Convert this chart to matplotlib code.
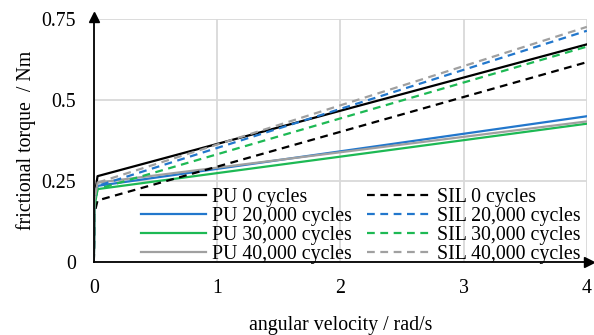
import matplotlib.pyplot as plt

plt.rcParams['font.family'] = ['Liberation Serif', 'DejaVu Serif']

# angular velocity / rad/s
x = [0, 0.005, 0.03, 4]

# frictional torque / Nm
pu_0 = [0, 0.2, 0.265, 0.672]
pu_20k = [0, 0.18, 0.235, 0.45]
pu_30k = [0, 0.17, 0.225, 0.427]
pu_40k = [0, 0.19, 0.245, 0.434]
sil_0 = [0, 0.15, 0.19, 0.617]
sil_20k = [0, 0.18, 0.235, 0.714]
sil_30k = [0, 0.17, 0.225, 0.665]
sil_40k = [0, 0.19, 0.245, 0.726]

labels_pu = ["PU 0 cycles", "PU 20,000 cycles", "PU 30,000 cycles", "PU 40,000 cycles"]
labels_sil = ["SIL 0 cycles", "SIL 20,000 cycles", "SIL 30,000 cycles", "SIL 40,000 cycles"]
colors = ["#000000", "#2277cc", "#1db954", "#a0a0a0"]

fig = plt.figure(figsize=(5.94, 3.35), dpi=100)
ax = fig.add_axes([0.158, 0.218, 0.83, 0.725])

for ys, lab, c in zip([pu_0, pu_20k, pu_30k, pu_40k], labels_pu, colors):
    ax.plot(x, ys, color=c, lw=1.6, label=lab)
for ys, lab, c in zip([sil_0, sil_20k, sil_30k, sil_40k], labels_sil, colors):
    ax.plot(x, ys, color=c, lw=1.6, ls=(0, (3.5, 2.5)), label=lab)

ax.set_xlim(0, 4)
ax.set_ylim(0, 0.75)
ax.set_xticks([0, 1, 2, 3, 4])
ax.set_yticks([0, 0.25, 0.5, 0.75])
ax.set_yticklabels(["0", "0.25", "0.5", "0.75"])
ax.grid(color="#d9d9d9", lw=1.3)
ax.set_axisbelow(True)
ax.tick_params(length=0, labelsize=14.3)
ax.tick_params(axis='y', pad=13)
ax.tick_params(axis='x', pad=12)

for s in ["top", "right"]:
    ax.spines[s].set_visible(False)
for s in ["left", "bottom"]:
    ax.spines[s].set_linewidth(1.3)
ax.plot(1.005, 0, ">k", ms=7, transform=ax.get_yaxis_transform(), clip_on=False)
ax.plot(0, 1.01, "^k", ms=7, transform=ax.get_xaxis_transform(), clip_on=False)

ax.set_xlabel("angular velocity / rad/s", fontsize=14.3, labelpad=13)
ax.set_ylabel("frictional torque  / Nm", fontsize=14.3, labelpad=4)

ax.legend(ncol=2, loc="lower left", bbox_to_anchor=(0.06, -0.08), frameon=False,
          fontsize=14.3, handlelength=3.25, columnspacing=0.75, labelspacing=0.0,
          handletextpad=0.3)

fig.savefig("out.png", dpi=100)
